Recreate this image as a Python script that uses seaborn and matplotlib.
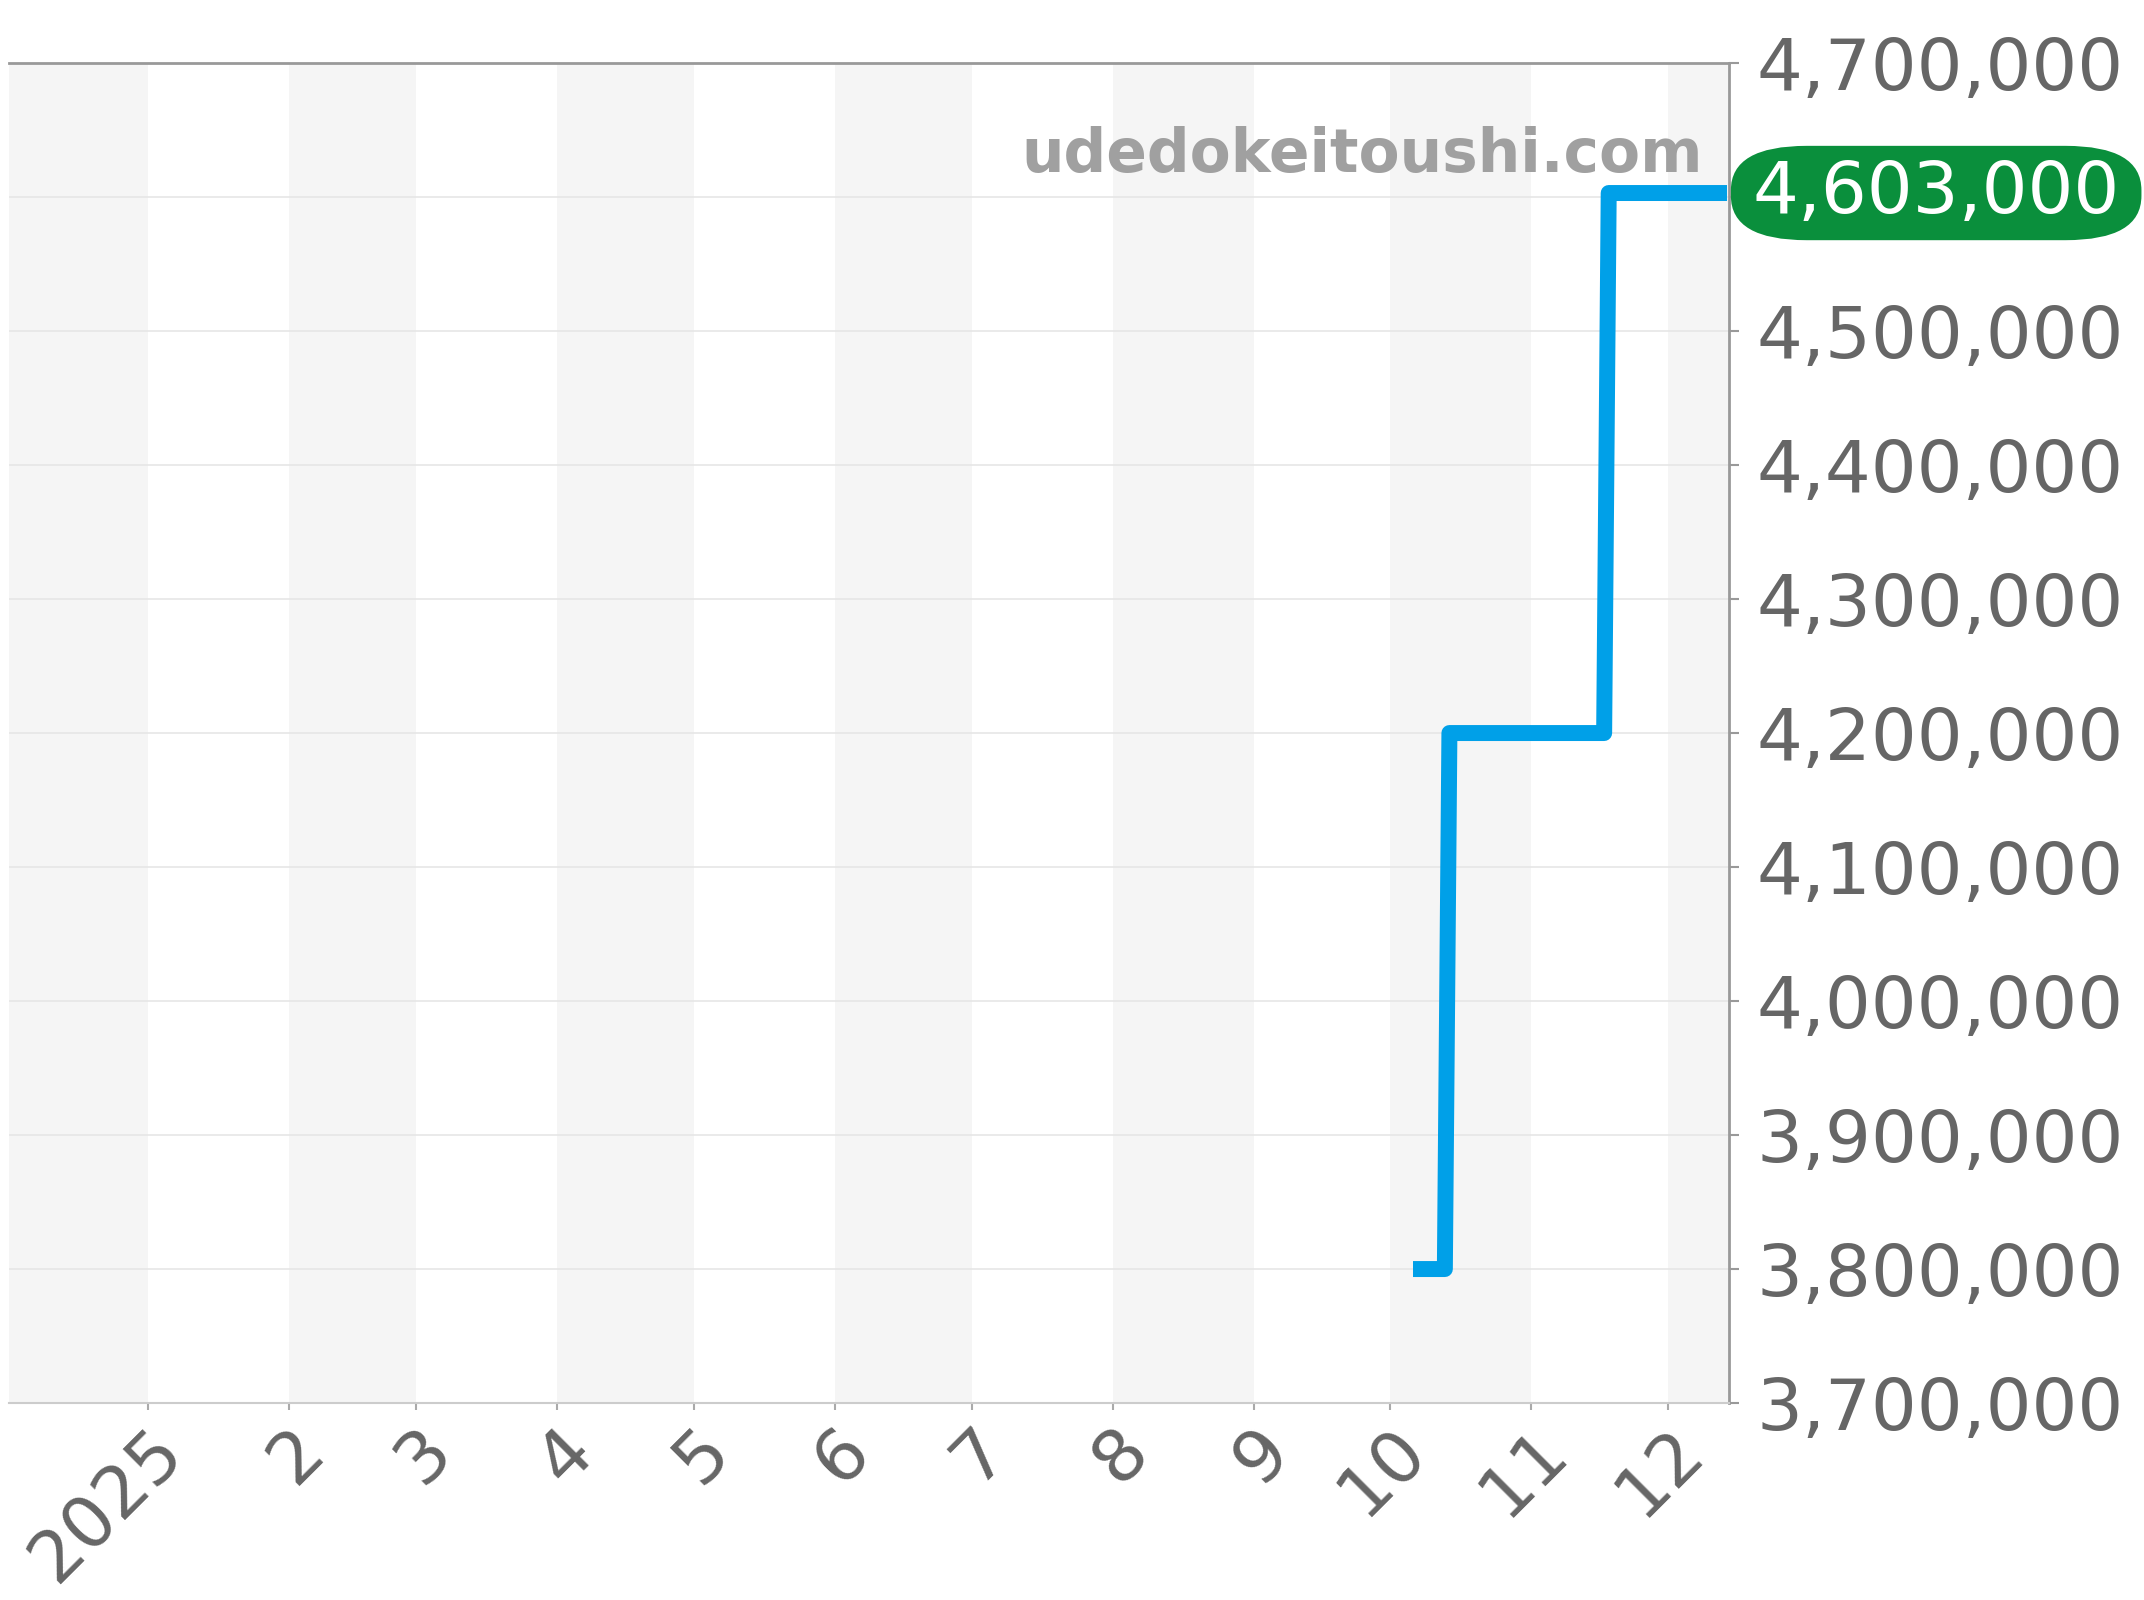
import matplotlib
matplotlib.use("Agg")
import matplotlib.pyplot as plt
import matplotlib.ticker as mticker
import pandas as pd
import seaborn as sns

sns.set_theme(style="white")
plt.rcParams['font.family'] = ['DejaVu Sans']

# データ
dates = ["2025-10-06", "2025-10-13", "2025-10-14", "2025-11-17", "2025-11-18", "2025-12-14"]
prices = [3800000, 3800000, 4200000, 4200000, 4603000, 4603000]

month_starts = ["2025-01-01", "2025-02-01", "2025-03-01", "2025-04-01", "2025-05-01", "2025-06-01",
                "2025-07-01", "2025-08-01", "2025-09-01", "2025-10-01", "2025-11-01", "2025-12-01"]
month_labels = ["2025", "2", "3", "4", "5", "6", "7", "8", "9", "10", "11", "12"]
shade_months = ["2024-12-01", "2025-02-01", "2025-04-01", "2025-06-01", "2025-08-01", "2025-10-01", "2025-12-01"]

y_ticks = [3700000, 3800000, 3900000, 4000000, 4100000, 4200000, 4300000, 4400000, 4500000, 4600000, 4700000]
latest_price = 4603000
watermark = "udedokeitoushi.com"

df = pd.DataFrame({"date": pd.to_datetime(dates), "price": prices})

x_min = pd.Timestamp("2024-12-01 12:00")
x_max = pd.Timestamp("2025-12-14 10:00")

fig = plt.figure(figsize=(21.44, 16), dpi=100)
ax = fig.add_axes([0.0042, 0.1231, 0.8022, 0.8375])

# 月ごとの背景の帯
for m in shade_months:
    start = pd.Timestamp(m)
    end = start + pd.offsets.MonthBegin(1)
    ax.axvspan(start, end, color="#f5f5f5", zorder=0, lw=0)

sns.lineplot(data=df, x="date", y="price", ax=ax, color="#00a0e8", linewidth=11.5,
             solid_capstyle="butt", solid_joinstyle="round", zorder=3)

ax.set_xlim(x_min, x_max)
ax.set_ylim(3700000, 4700000)
ax.set_xlabel("")
ax.set_ylabel("")

ax.xaxis.set_major_locator(mticker.FixedLocator([matplotlib.dates.date2num(pd.Timestamp(d)) for d in month_starts]))
ax.xaxis.set_major_formatter(mticker.FixedFormatter(month_labels))
ax.set_yticks(y_ticks)
ax.yaxis.set_major_formatter(mticker.FuncFormatter(lambda v, p: f"{int(v):,}"))

ax.yaxis.tick_right()
ax.yaxis.set_label_position("right")
ax.grid(axis="y", color="#e6e6e6", linewidth=1.2, zorder=1)
ax.grid(axis="x", visible=False)
ax.set_axisbelow(True)

ax.tick_params(axis="y", which="major", direction="out", length=7, width=1.5, color="#999999",
               labelsize=52, labelcolor="#666666", pad=13, right=True, left=False)
ax.tick_params(axis="x", which="major", direction="out", length=5, width=1.5, color="#aaaaaa",
               labelsize=52, labelcolor="#666666", pad=4, bottom=True)
for lbl in ax.get_xticklabels():
    lbl.set_rotation(45)
    lbl.set_rotation_mode("anchor")
    lbl.set_ha("right")
    lbl.set_va("top")

for side in ["top", "right"]:
    ax.spines[side].set_color("#999999")
    ax.spines[side].set_linewidth(2)
ax.spines["bottom"].set_color("#cccccc")
ax.spines["bottom"].set_linewidth(1.5)
ax.spines["left"].set_visible(False)

# ウォーターマーク
ax.text(0.985, 0.919, watermark, transform=ax.transAxes, ha="right", va="baseline",
        fontsize=43, fontweight="bold", color="#a0a0a0", zorder=4)

# 最新価格のバッジ
ax.annotate(f"{latest_price:,}", xy=(1.0, latest_price), xycoords=("axes fraction", "data"),
            xytext=(17, 0), textcoords="offset points", ha="left", va="center",
            fontsize=52, color="white", annotation_clip=False,
            bbox=dict(boxstyle="round,pad=0.3,rounding_size=1.05", mutation_aspect=0.585,
                      fc="#0a8f3c", ec="none"))

fig.savefig("out.png", dpi=100)
